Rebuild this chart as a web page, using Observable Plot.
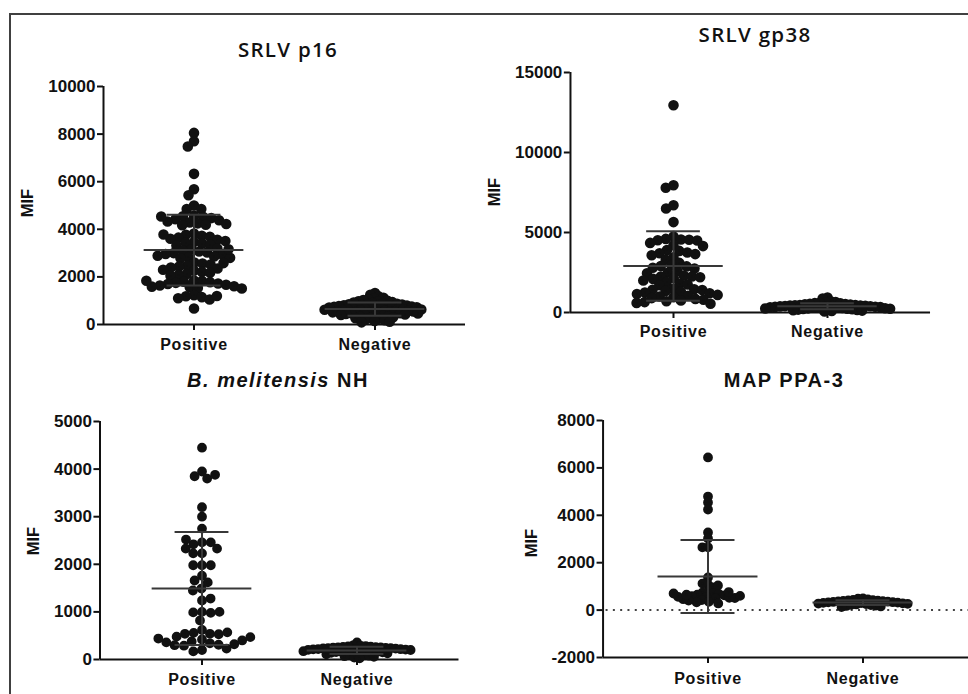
<!DOCTYPE html>
<html>
<head>
<meta charset="utf-8">
<script src="https://cdn.jsdelivr.net/npm/d3@7"></script>
<script src="https://cdn.jsdelivr.net/npm/@observablehq/plot@0.6"></script>
<style>
  html, body { margin: 0; padding: 0; background: #fff; }
  body { width: 968px; height: 694px; overflow: hidden; }
  #fig { position: relative; width: 968px; height: 694px; overflow: hidden; background: #fff; }
  #frame { position: absolute; left: 9px; top: 13px; width: 1200px; height: 1000px;
           border-top: 2px solid #404040; border-left: 2px solid #404040; }
  .panel { position: absolute; overflow: visible; }
  .title { position: absolute; white-space: nowrap; color: #111; line-height: 1; transform: translateX(-50%); }
  .ylab { position: absolute; white-space: nowrap; color: #111; line-height: 1;
          font: bold 16.5px "Liberation Sans", Arial, sans-serif;
          transform: translate(-50%, -50%) rotate(-90deg); }
</style>
</head>
<body>
<div id="fig"><div id="frame"></div></div>
<script>
// ---------------- data ----------------
const groups = ["Positive", "Negative"];

// SRLV p16
const p16Ticks = [0, 2000, 4000, 6000, 8000, 10000];
const p16Positive = [8050, 7700, 7480, 6330, 5680, 5430, 5000, 4850, 4850,
  4580, 4550, 4520, 4470, 4420, 4380, 4330, 4290, 4250, 4220, 4190, 4170, 4540,
  3820, 3770, 3730, 3690, 3650, 3600, 3560, 3510, 3470, 3430, 3390, 3350, 3320, 3780,
  3190, 3150, 3110, 3070, 3030, 3000, 2960, 2930, 2890, 2860, 2830, 2800, 2780, 3160,
  2600, 2560, 2520, 2470, 2430, 2390, 2350, 2300, 2260, 2210, 2170, 2120, 2080, 2050, 2580,
  1850, 1830, 1800, 1780, 1750, 1720, 1700, 1670, 1640, 1610, 1590, 1560, 1530, 1510, 1840,
  1230, 1190, 1150, 1100, 1050, 1200,
  670];
const p16Negative = [1320, 1250, 1180, 1120, 1090, 1060, 1030, 1000, 980, 960, 940, 920, 900, 890,
  870, 860, 850, 840, 820, 810, 800, 790, 780, 770, 760, 750, 740, 730, 720, 710, 700, 690, 680,
  670, 660, 650, 640, 630, 620, 610, 600, 590, 580, 570, 560, 550, 540, 530, 520, 510, 500, 490,
  480, 470, 460, 450, 440, 420, 400, 380, 360, 340, 320, 300, 280, 260, 240, 210, 180, 150, 120, 90];

// SRLV gp38
const gp38Ticks = [0, 5000, 10000, 15000];
const gp38Positive = [12950, 7950, 7800, 6700, 6500, 5650,
  4750, 4600, 4560, 4550, 4520, 4500, 4350, 4200, 4150,
  3900, 3850, 3750, 3700, 3650, 3580, 3450, 3300, 3100,
  2950, 2900, 2880, 2800, 2750, 2600, 2500, 2450,
  2300, 2250, 2250, 2200, 2150, 2100, 2000, 1900, 1800, 1750, 1700,
  1480, 1450, 1420, 1400, 1350, 1300, 1250, 1200, 1150, 1100, 1050, 1000, 950, 900, 850,
  800, 750, 700, 650, 600, 550];
const gp38Negative = [940, 870, 700, 660, 630, 610, 590, 570, 550, 530, 510, 490, 470, 460, 450,
  440, 430, 420, 410, 400, 390, 380, 370, 360, 350, 340, 330, 320, 310, 300, 290, 280, 270, 260,
  250, 240, 230, 220, 200, 180, 160, 140, 120, 90, 60];

// B. melitensis NH
const melTicks = [0, 1000, 2000, 3000, 4000, 5000];
const melPositive = [4450, 3950, 3850, 3800, 3880, 3200, 3000, 2750,
  2460, 2420, 2460, 2520, 2230, 2330, 2330, 2230,
  1980, 1980, 1980, 1760, 1660, 1620, 1490, 1450, 1240, 1280,
  1000, 990, 980, 1000, 820,
  620, 560, 540, 530, 540, 570,
  480, 420, 380, 340, 310, 290, 200, 170, 230, 300, 320, 360, 400, 440, 470];
const melNegative = [357, 295, 288, 282, 276, 270, 265, 260, 256, 252, 248, 244, 240, 236, 232,
  228, 224, 220, 216, 212, 208, 204, 200, 195, 190, 185, 180, 175, 170, 165, 160, 155, 150, 140,
  130, 120, 110, 100, 90, 80, 70, 55, 40, 25];

// MAP PPA-3
const mapTicks = [-2000, 0, 2000, 4000, 6000, 8000];
const mapPositive = [6440, 4790, 4540, 4245, 3275, 3020, 2650, 2650, 1375, 1080, 1120, 785, 955, 1040,
  740, 700, 680, 650, 620, 590, 560, 520, 480, 420, 350, 280, 330, 400, 460, 510, 560, 600, 650, 700, 760];
const mapNegative = [490, 485, 450, 430, 415, 405, 395, 385, 375, 365, 355, 345, 335, 325,
  315, 305, 295, 285, 275, 265, 255, 240, 225, 210, 195, 175, 155, 130];

// ---------------- drawing ----------------
const fig = document.getElementById("fig");
const ink = "#111";
const barInk = "#383838";
const coreR = 3; // radius used by the dodge layout; the visible dot is widened by its stroke

function addTitle(html, cx, baseline, size, family, weight, ls, baseK) {
  const d = document.createElement("div");
  d.className = "title";
  d.innerHTML = html;
  d.style.left = cx + "px";
  d.style.top = (baseline - baseK * size) + "px";
  d.style.fontFamily = family;
  d.style.fontWeight = weight;
  d.style.fontSize = size + "px";
  d.style.letterSpacing = ls + "px";
  fig.appendChild(d);
}
function addYLabel(text, cx, cy) {
  const d = document.createElement("div");
  d.className = "ylab";
  d.textContent = text;
  d.style.left = cx + "px";
  d.style.top = cy + "px";
  fig.appendChild(d);
}

function drawPanel(cfg) {
  const {left, top, width, height, marginLeft, marginRight, marginTop, marginBottom,
         padOuter, yDomain, yTicks, pos, neg, dotR, posGap, negGap, labelPad,
         zeroLine = false, extendRight = 0} = cfg;
  const data = [
    ...pos.map(v => ({group: groups[0], value: v})),
    ...neg.map(v => ({group: groups[1], value: v}))
  ];
  const stats = groups.map(g => {
    const vals = data.filter(d => d.group === g).map(d => d.value);
    const m = d3.mean(vals), s = d3.deviation(vals);
    return {group: g, mean: m, lo: m - s, hi: m + s};
  });
  const W = width - marginLeft - marginRight;
  const step = W / (groups.length + 2 * padOuter);
  const half = step / 2;
  const outer = padOuter * step;
  const edge = half + outer;
  const meanHalf = 50, capHalf = 27;
  const axisRows = [
    {fx: groups[0], x1: -edge, x2: half},
    {fx: groups[1], x1: -half, x2: edge + extendRight}
  ];
  const zeroRows = [
    {fx: groups[0], x1: -edge + 3, x2: half},
    {fx: groups[1], x1: -half, x2: edge + extendRight}
  ];
  const dotStyle = {fx: "group", y: "value", r: coreR, fill: ink, stroke: ink,
                    strokeWidth: 2 * (dotR - coreR)};
  const marks = [];
  if (zeroLine) {
    marks.push(Plot.ruleY(zeroRows, {fx: "fx", x1: "x1", x2: "x2", y: 0, stroke: "#444",
      strokeWidth: 2, strokeDasharray: "2,5.3"}));
  }
  marks.push(
    Plot.ruleX([{fx: groups[0], x: -edge}], {fx: "fx", x: "x", y1: yDomain[0], y2: yDomain[1],
      stroke: ink, strokeWidth: 2}),
    Plot.ruleY(axisRows, {fx: "fx", x1: "x1", x2: "x2", y: yDomain[0], stroke: ink, strokeWidth: 2}),
    Plot.axisY({ticks: yTicks, tickFormat: d => String(d), tickSize: 6, tickPadding: 2,
      dx: -outer, label: null, fontSize: 17, fontWeight: "bold", strokeWidth: 2}),
    Plot.axisFx({anchor: "bottom", tickSize: 6, tickPadding: labelPad, label: null,
      fontSize: 16, fontWeight: "bold", strokeWidth: 2}),
    Plot.dot(data.filter(d => d.group === groups[0]),
      Plot.dodgeX({anchor: "middle", padding: posGap - 2 * coreR}, dotStyle)),
    Plot.dot(data.filter(d => d.group === groups[1]),
      Plot.dodgeX({anchor: "middle", padding: negGap - 2 * coreR}, dotStyle)),
    Plot.ruleY(stats, {fx: "group", y: "mean", x1: -meanHalf, x2: meanHalf, stroke: barInk, strokeWidth: 2}),
    Plot.ruleY(stats, {fx: "group", y: "hi", x1: -capHalf, x2: capHalf, stroke: barInk, strokeWidth: 2}),
    Plot.ruleY(stats, {fx: "group", y: "lo", x1: -capHalf, x2: capHalf, stroke: barInk, strokeWidth: 2}),
    Plot.ruleX(stats, {fx: "group", x: 0, y1: "lo", y2: "hi", stroke: barInk, strokeWidth: 2})
  );
  const svg = Plot.plot({
    width, height, marginLeft, marginRight, marginTop, marginBottom,
    fx: {domain: groups, paddingInner: 0, paddingOuter: padOuter},
    x: {domain: [-half, half], axis: null},
    y: {domain: yDomain},
    style: {fontFamily: "'Liberation Sans', Arial, sans-serif", fontWeight: "bold",
            fontSize: "17px", color: ink, background: "transparent", overflow: "visible"},
    marks
  });
  d3.select(svg).selectAll('[aria-label="fx-axis tick label"] text').style("letter-spacing", "0.8px");
  svg.classList.add("panel");
  svg.style.left = left + "px";
  svg.style.top = top + "px";
  fig.appendChild(svg);
}

// posGap / negGap: centre-to-centre spacing (px) that the swarm keeps between dots
drawPanel({left: 0, top: 0, width: 484, height: 360, marginLeft: 102, marginRight: 19,
  marginTop: 86, marginBottom: 36, padOuter: 0, yDomain: [0, 10000], yTicks: p16Ticks,
  pos: p16Positive, neg: p16Negative, dotR: 5.3, posGap: 8.1, negGap: 5, labelPad: 8.5});
drawPanel({left: 484, top: 0, width: 484, height: 360, marginLeft: 85, marginRight: 37,
  marginTop: 72, marginBottom: 48, padOuter: 0.169, yDomain: [0, 15000], yTicks: gp38Ticks,
  pos: gp38Positive, neg: gp38Negative, dotR: 5.3, posGap: 8.1, negGap: 5, labelPad: 7.5});
drawPanel({left: 0, top: 360, width: 484, height: 334, marginLeft: 99, marginRight: 25,
  marginTop: 61, marginBottom: 35, padOuter: 0.158, yDomain: [0, 5000], yTicks: melTicks,
  pos: melPositive, neg: melNegative, dotR: 4.9, posGap: 8.8, negGap: 5, labelPad: 8.5});
drawPanel({left: 484, top: 360, width: 520, height: 334, marginLeft: 118, marginRight: 37,
  marginTop: 60, marginBottom: 37, padOuter: 0.177, yDomain: [-2000, 8000], yTicks: mapTicks,
  pos: mapPositive, neg: mapNegative, dotR: 4.9, posGap: 5.6, negGap: 5, labelPad: 9.5,
  zeroLine: true, extendRight: 60});

const openSans = "'Open Sans', 'Noto Sans', sans-serif";
const lib = "'Liberation Sans', Arial, sans-serif";
addTitle("SRLV p16", 288, 57, 20.5, openSans, 600, 1.3, 0.888);
addTitle("SRLV gp38", 755, 42, 20.5, openSans, 600, 1.3, 0.888);
addTitle("<i>B. melitensis</i> NH", 278, 387, 20, lib, 700, 1.5, 0.8465);
addTitle("MAP PPA-3", 784, 387, 20, lib, 700, 1.5, 0.8465);

addYLabel("MIF", 27, 203);
addYLabel("MIF", 494, 192);
addYLabel("MIF", 33, 541);
addYLabel("MIF", 531, 543);
</script>
</body>
</html>
